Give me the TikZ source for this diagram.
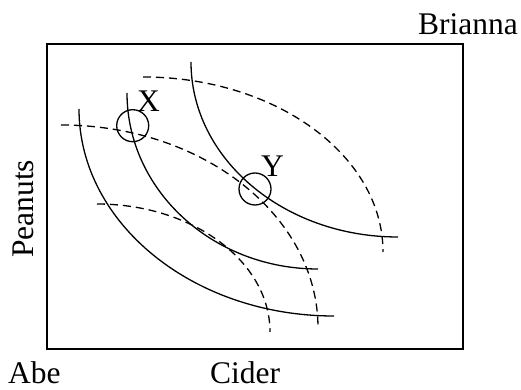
\documentclass[tikz,border=0pt]{standalone}
\usepackage{fontspec}
\setmainfont{Liberation Serif}
\usepackage{tikz}
\usetikzlibrary{
	arrows.meta,
	calc,
	positioning
}

\begin{document}
\begin{tikzpicture}[x=1pt, y=1pt,
		axisbox/.style={line width=1.8pt},
		abecurve/.style={line width=1.3pt},
		briannacurve/.style={line width=1.3pt, dash pattern=on 8pt off 5pt},
		spot/.style={draw, circle, line width=1.3pt, minimum size=32pt, inner sep=0pt},
		lbl/.style={inner sep=0pt, font=\fontsize{31.5}{36}\selectfont}]
		\useasboundingbox (0,0) rectangle (521,390);
		% the box
		\draw[axisbox] (47,41.3) rectangle (463,345.7);
		\node[lbl, anchor=base west] (brianna) at (418,355) {Brianna};
		\node[lbl, anchor=base west] (abe) at (8,6) {Abe};
		\node[lbl, anchor=base west] (cider) at (210,6) {Cider};
		\node[lbl, anchor=base west, rotate=90] (peanuts) at (33,132) {Peanuts};
		% Abe
		\draw[abecurve] (79,281) arc[start angle=180, end angle=270, x radius=255, y radius=207];
		\draw[abecurve] (127,297) arc[start angle=180, end angle=270, x radius=191, y radius=176];
		\draw[abecurve] (191,328) arc[start angle=180, end angle=270, x radius=207, y radius=175];
		% Brianna
		\draw[briannacurve] (97,186) arc[start angle=90, end angle=0, x radius=173, y radius=128];
		\draw[briannacurve] (61,265) arc[start angle=90, end angle=0, x radius=257, y radius=203];
		\draw[briannacurve] (143,313) arc[start angle=90, end angle=0, x radius=240, y radius=175];
		% the two points
		\node[spot] (spotX) at (132.7,264.3) {};
		\node[spot] (spotY) at (255,201) {};
		\node[lbl, anchor=base west] (labX) at (137,278) {X};
		\node[lbl, anchor=base west] (labY) at (261,213) {Y};
	\end{tikzpicture}
\end{document}
